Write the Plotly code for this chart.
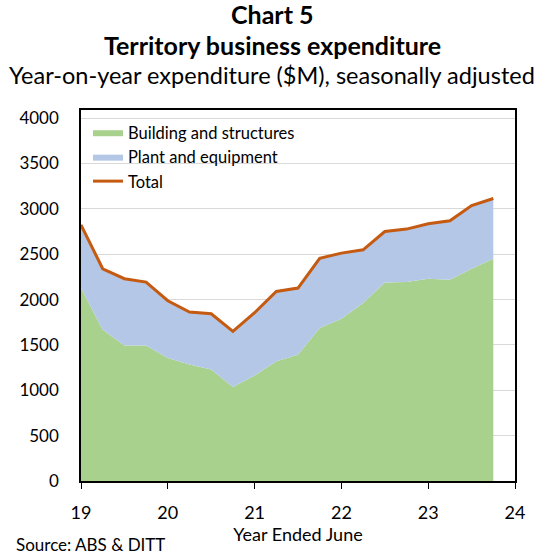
import plotly.graph_objects as go

quarters = [19.0, 19.25, 19.5, 19.75, 20.0, 20.25, 20.5, 20.75, 21.0, 21.25,
            21.5, 21.75, 22.0, 22.25, 22.5, 22.75, 23.0, 23.25, 23.5, 23.75]
building = [2127, 1668, 1495, 1495, 1356, 1283, 1228, 1037, 1162, 1319,
            1393, 1688, 1789, 1962, 2189, 2193, 2230, 2218, 2340, 2450]
plant = [697, 672, 735, 698, 631, 580, 616, 613, 693, 771,
         734, 767, 723, 587, 561, 584, 605, 650, 697, 664]
total = [2824, 2340, 2230, 2193, 1987, 1863, 1844, 1650, 1855, 2090,
         2127, 2455, 2512, 2549, 2750, 2777, 2835, 2868, 3037, 3114]
x_ticks = [19, 20, 21, 22, 23, 24]
y_ticks = [0, 500, 1000, 1500, 2000, 2500, 3000, 3500, 4000]

FONT = "Lato"
W, H = 545, 556
ML, MR, MT, MB = 81, 30, 110, 75
PW, PH = W - ML - MR, H - MT - MB

fig = go.Figure()
fig.add_trace(go.Scatter(x=quarters, y=building, name="Building and structures",
                         mode="lines", stackgroup="one", line=dict(width=0, color="#A9D18E"),
                         fillcolor="#A9D18E"))
fig.add_trace(go.Scatter(x=quarters, y=plant, name="Plant and equipment",
                         mode="lines", stackgroup="one", line=dict(width=0, color="#B4C7E7"),
                         fillcolor="#B4C7E7"))
fig.add_trace(go.Scatter(x=quarters, y=total, name="Total", mode="lines",
                         line=dict(width=3, color="#C55A11")))

fig.update_layout(
    width=W, height=H,
    margin=dict(l=ML, r=MR, t=MT, b=MB, autoexpand=False),
    paper_bgcolor="white", plot_bgcolor="white",
    font=dict(family=FONT, size=17, color="#000000"),
    showlegend=True,
    legend=dict(x=(88 - ML) / PW, y=1 - (115 - MT) / PH, xanchor="left", yanchor="top",
                traceorder="normal", bgcolor="rgba(0,0,0,0)",
                font=dict(size=16.5, family=FONT), tracegroupgap=0, itemwidth=30),
    xaxis=dict(range=[19, 24], tickvals=x_ticks, ticktext=[str(v) for v in x_ticks],
               showgrid=False, zeroline=False, showline=True, linecolor="#000000",
               linewidth=1.5, mirror=True, ticks="outside", ticklen=6, tickcolor="#000000",
               tickfont=dict(size=18, family=FONT), automargin=False, ticklabelstandoff=9,
               title=dict(text="Year Ended June", font=dict(size=18, family=FONT), standoff=5)),
    yaxis=dict(range=[0, 4090], tickvals=y_ticks, showgrid=True, gridcolor="#D9D9D9",
               gridwidth=1, zeroline=False, showline=True, linecolor="#000000",
               linewidth=1.5, mirror=True, ticks="", tickfont=dict(size=17, family=FONT),
               ticklabelstandoff=17, automargin=False),
)


def top_text(txt, ypx, size, bold=False):
    yp = 1 + (MT - ypx) / PH
    fig.add_annotation(text=("<b>%s</b>" % txt) if bold else txt,
                       x=(272 - ML) / PW, xref="paper", xanchor="center",
                       y=yp, yref="paper", yanchor="middle", showarrow=False,
                       font=dict(size=size, family=FONT, color="#000000"))


top_text("Chart 5", 14, 25, True)
top_text("Territory business expenditure", 45, 25, True)
top_text("Year-on-year expenditure ($M), seasonally adjusted", 75, 23.5)

fig.add_annotation(text="Source: ABS &amp; DITT", x=(14 - ML) / PW, xref="paper",
                   xanchor="left", y=-(544 - 481) / PH, yref="paper", yanchor="middle",
                   showarrow=False, font=dict(size=17, family=FONT, color="#000000"))

fig.write_html("out.html", config={"displayModeBar": False},
               post_script="document.body.style.margin='0';")
